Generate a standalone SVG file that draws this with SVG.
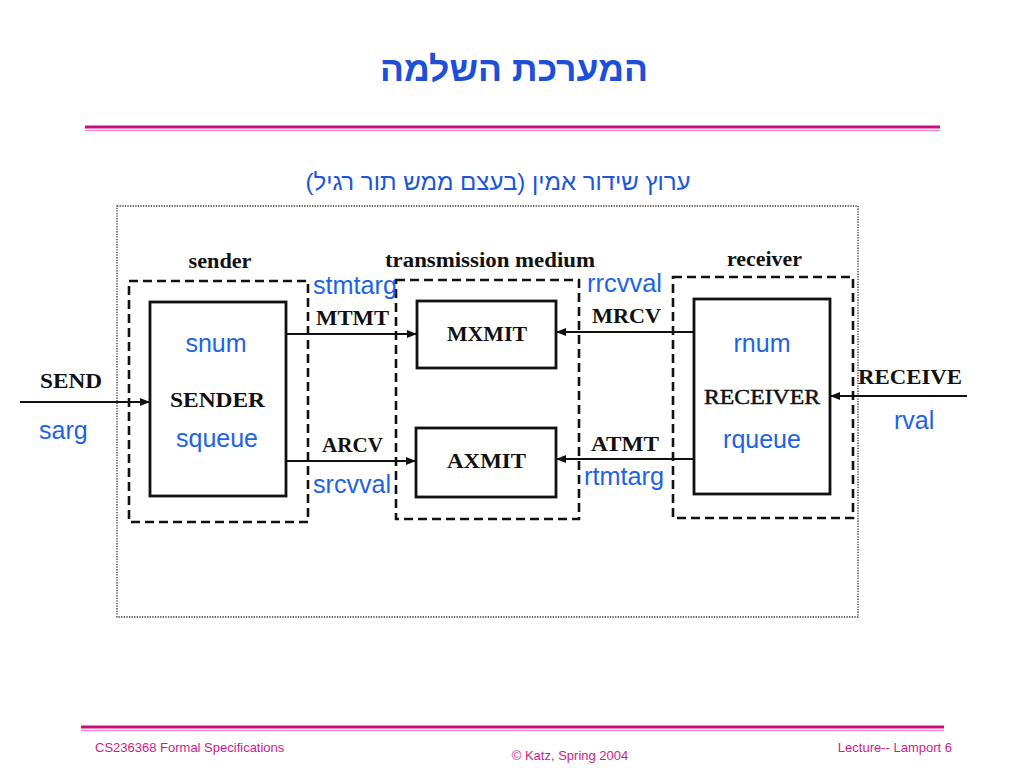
<svg xmlns="http://www.w3.org/2000/svg" width="1024" height="768" viewBox="0 0 1024 768">
<defs>
<style>
.bg{fill:#ffffff}
.title{font-family:"Liberation Sans","DejaVu Sans",sans-serif;font-weight:bold;fill:#1d4fd8}
.sub{font-family:"Liberation Sans","DejaVu Sans",sans-serif;fill:#1d55dc}
.rule1{stroke:#c8107c;stroke-width:3;fill:none}
.rule2{stroke:#f28cc6;stroke-width:1.6;fill:none}
.foot{font-family:"Liberation Sans",Arial,sans-serif;font-size:13px;fill:#cc1d86}
.frame{fill:none;stroke:#333;stroke-width:1.3;stroke-dasharray:1.3 1.3}
.dash{fill:none;stroke:#111;stroke-width:2.6;stroke-dasharray:9 5}
.box{fill:#fff;stroke:#111;stroke-width:2.8}
.lbl{font-family:"Liberation Serif","DejaVu Serif",serif;font-weight:bold;font-size:20px;fill:#111}
.cap{font-family:"Liberation Serif","DejaVu Serif",serif;font-weight:bold;font-size:21px;fill:#111}
.node{font-family:"Liberation Serif","DejaVu Serif",serif;font-weight:bold;font-size:22px;fill:#111}
.noder{font-family:"Liberation Serif","DejaVu Serif",serif;font-size:22px;fill:#111;stroke:#111;stroke-width:0.5}
.blue{font-family:"Liberation Sans",Arial,sans-serif;font-size:25px;fill:#1e63e6}
.wire{stroke:#111;stroke-width:2.2;fill:none;marker-end:url(#ah)}
</style>
<marker id="ah" viewBox="0 0 10 8" refX="10" refY="4" markerWidth="10" markerHeight="8" markerUnits="userSpaceOnUse" orient="auto">
<path d="M0,0 L10,4 L0,8 Z" fill="#111"/>
</marker>
</defs>
<rect class="bg" x="0" y="0" width="1024" height="768"/>

<g id="header">
<text class="title" x="514" y="81" font-size="35" text-anchor="middle" direction="rtl" textLength="268" lengthAdjust="spacingAndGlyphs">המערכת השלמה</text>
<line class="rule1" x1="85" y1="127" x2="940" y2="127"/>
<line class="rule2" x1="85" y1="130.5" x2="940" y2="130.5"/>
<text class="sub" x="498" y="190" font-size="24" text-anchor="middle" direction="rtl">ערוץ שידור אמין (בעצם ממש תור רגיל)</text>
</g>

<g id="frame">
<rect class="frame" x="117" y="206" width="741" height="411"/>
</g>

<g id="sender">
<rect class="dash" x="129" y="281" width="179" height="241"/>
<text class="lbl" x="220" y="268" text-anchor="middle" textLength="63" lengthAdjust="spacingAndGlyphs">sender</text>
</g>
<g id="SENDER">
<rect class="box" x="150" y="302" width="136" height="194"/>
<text class="blue" x="216" y="352" text-anchor="middle">snum</text>
<text class="node" x="170" y="407" textLength="95" lengthAdjust="spacingAndGlyphs">SENDER</text>
<text class="blue" x="217" y="447" text-anchor="middle">squeue</text>
</g>

<g id="medium">
<rect class="dash" x="396" y="280" width="183" height="239"/>
<text class="lbl" x="385" y="267" textLength="210" lengthAdjust="spacingAndGlyphs">transmission  medium</text>
</g>
<g id="MXMIT">
<rect class="box" x="417" y="301" width="139" height="67"/>
<text class="node" x="447" y="341" textLength="80" lengthAdjust="spacingAndGlyphs">MXMIT</text>
</g>
<g id="AXMIT">
<rect class="box" x="416" y="428" width="140" height="69"/>
<text class="node" x="447" y="468" textLength="79" lengthAdjust="spacingAndGlyphs">AXMIT</text>
</g>

<g id="receiver">
<rect class="dash" x="673" y="277" width="180" height="241"/>
<text class="lbl" x="727" y="266" textLength="75" lengthAdjust="spacingAndGlyphs">receiver</text>
</g>
<g id="RECEIVER">
<rect class="box" x="694" y="299" width="136" height="195"/>
<text class="blue" x="762" y="352" text-anchor="middle">rnum</text>
<text class="noder" x="704" y="404" textLength="116" lengthAdjust="spacingAndGlyphs">RECEIVER</text>
<text class="blue" x="762" y="448" text-anchor="middle">rqueue</text>
</g>

<g id="connectors">
<line class="wire" x1="20" y1="402" x2="150" y2="402"/>
<line class="wire" x1="286" y1="334" x2="417" y2="334"/>
<line class="wire" x1="286" y1="461" x2="416" y2="461"/>
<line class="wire" x1="694" y1="332" x2="556" y2="332"/>
<line class="wire" x1="694" y1="459" x2="556" y2="459"/>
<line class="wire" x1="967" y1="396" x2="830" y2="396"/>
</g>

<g id="connector-labels">
<text class="cap" x="40" y="388" textLength="62" lengthAdjust="spacingAndGlyphs">SEND</text>
<text class="blue" x="39" y="439">sarg</text>
<text class="blue" x="313" y="294" textLength="84" lengthAdjust="spacingAndGlyphs">stmtarg</text>
<text class="cap" x="316" y="325" textLength="73" lengthAdjust="spacingAndGlyphs">MTMT</text>
<text class="cap" x="322" y="452" textLength="61" lengthAdjust="spacingAndGlyphs">ARCV</text>
<text class="blue" x="313" y="493" textLength="78" lengthAdjust="spacingAndGlyphs">srcvval</text>
<text class="blue" x="587" y="292" textLength="75" lengthAdjust="spacingAndGlyphs">rrcvval</text>
<text class="cap" x="592" y="323" textLength="69" lengthAdjust="spacingAndGlyphs">MRCV</text>
<text class="cap" x="591" y="451" textLength="68" lengthAdjust="spacingAndGlyphs">ATMT</text>
<text class="blue" x="584" y="485" textLength="80" lengthAdjust="spacingAndGlyphs">rtmtarg</text>
<text class="cap" x="858" y="384" textLength="104" lengthAdjust="spacingAndGlyphs">RECEIVE</text>
<text class="blue" x="894" y="429">rval</text>
</g>

<g id="footer">
<line class="rule1" x1="81" y1="727" x2="944" y2="727"/>
<line class="rule2" x1="81" y1="730.5" x2="944" y2="730.5"/>
<text class="foot" x="95" y="752">CS236368 Formal Specifications</text>
<text class="foot" x="570" y="760" text-anchor="middle">© Katz, Spring 2004</text>
<text class="foot" x="952" y="752" text-anchor="end">Lecture-- Lamport  6</text>
</g>
</svg>
